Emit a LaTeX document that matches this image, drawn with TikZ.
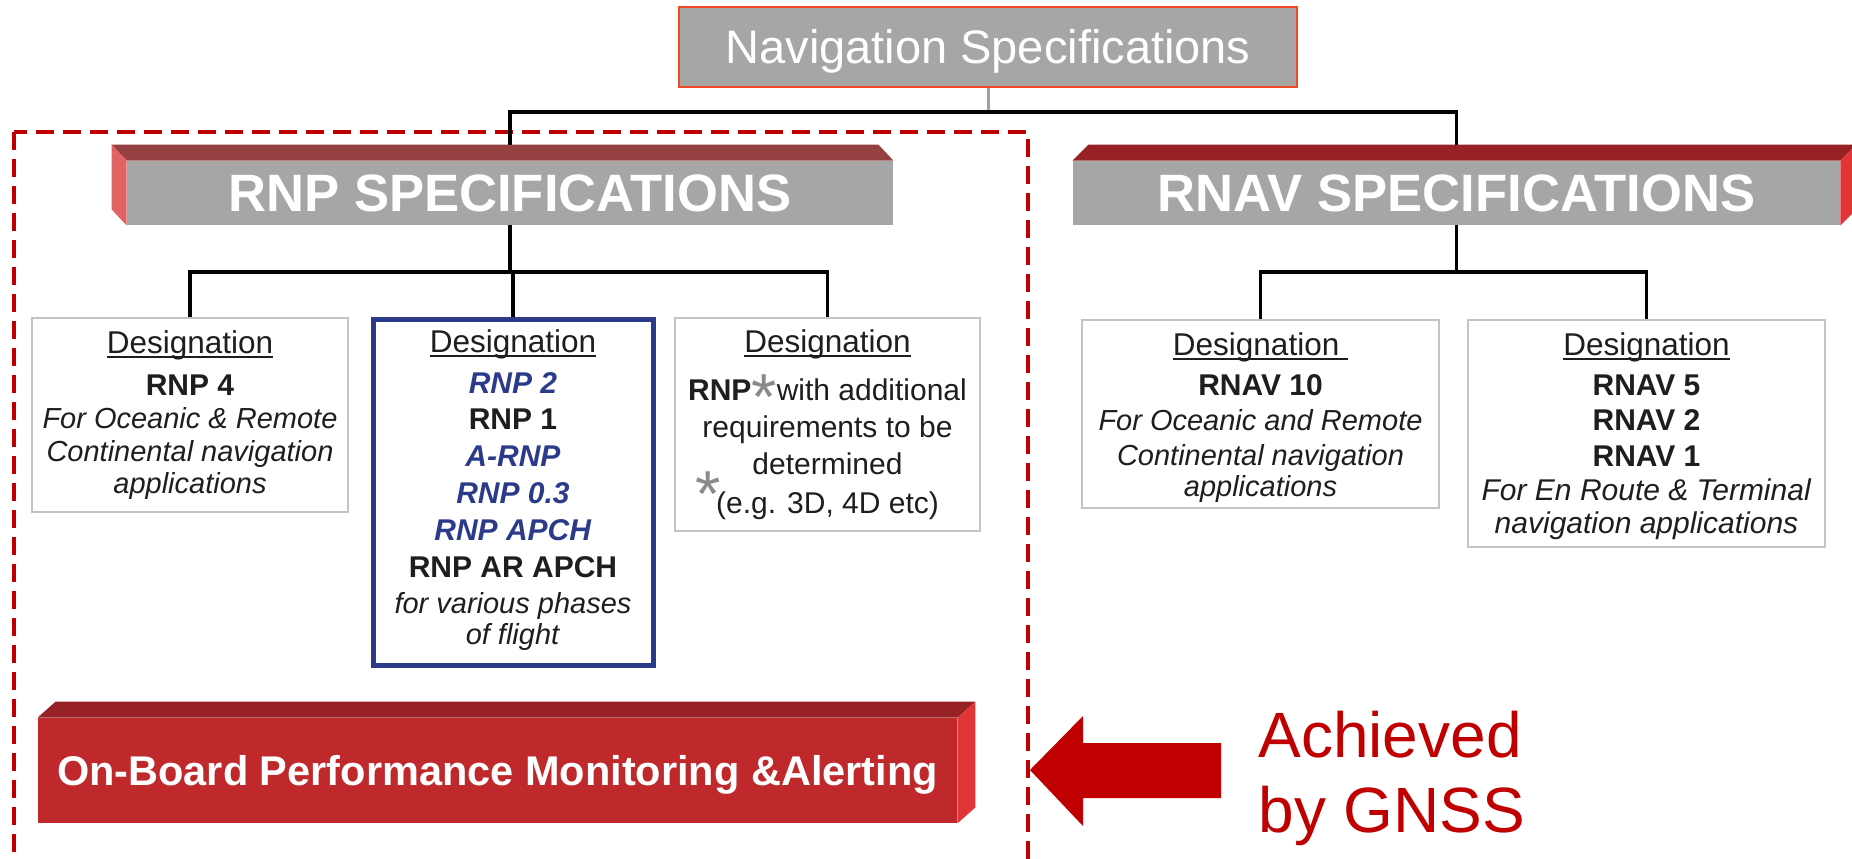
\documentclass[tikz,border=0pt]{standalone}
\usepackage{fontspec}
\setmainfont{Liberation Sans}
\usetikzlibrary{calc}

\definecolor{specgray}{HTML}{A6A6A6}
\definecolor{navedge}{HTML}{F04A22}
\definecolor{rnptop}{HTML}{964141}
\definecolor{rnpside}{HTML}{E06262}
\definecolor{bartop}{HTML}{962226}
\definecolor{barside}{HTML}{E23538}
\definecolor{barfront}{HTML}{C0292C}
\definecolor{framered}{HTML}{C00000}
\definecolor{boxedge}{HTML}{C4C4C4}
\definecolor{navyblue}{HTML}{2C3A8A}
\definecolor{inkblack}{HTML}{1E1E1E}
\definecolor{stargray}{HTML}{8A8A8A}
\definecolor{linkgray}{HTML}{A0A0A0}

% underlined heading of each designation box
\newcommand\desig[1]{{\fontsize{15.75}{17}\selectfont\setbox0\hbox{#1}\rlap{\rule[-2.3pt]{\wd0}{1.1pt}}\box0}}
% large grey footnote asterisk
\newcommand\starmark{\raisebox{-9.5pt}[0pt][0pt]{\textcolor{stargray}{\fontsize{32.5}{32.5}\selectfont *}}}
\newcommand\bluebold[1]{\textcolor{navyblue}{\textbf{\textit{#1}}}}
% slightly smaller italic remark lines
\newcommand\remark[1]{{\fontsize{14.5}{16}\selectfont\textit{#1}}}

\begin{document}
\begin{tikzpicture}[x=0.5pt,y=-0.5pt,
  conn/.style={draw=black, line width=1.75pt},
  specbar/.style={fill=specgray, inner sep=0pt, text=white,
    font=\bfseries\fontsize{26.3}{30}\selectfont, text height=18.8pt, text depth=0pt,
    minimum height=32pt},
  desbox/.style={draw=boxedge, line width=0.75pt, fill=white, inner sep=0pt},
  destext/.style={anchor=north, align=center, inner sep=0pt, text=inkblack,
    font=\fontsize{15}{#1}\selectfont}]

\clip (0,0) rectangle (1852,858);
\fill[white] (0,0) rectangle (1852,858);

% frame round the RNP branch
\draw[framered, line width=1.75pt, dash pattern=on 9pt off 4.5pt] (14,132) rectangle (1028,920);

% root
\node[draw=navedge, line width=1pt, fill=specgray, minimum width=309pt, minimum height=40pt,
  inner sep=0pt, text=white, font=\fontsize{23.5}{28}\selectfont, text height=16.8pt, text depth=0pt]
  (nav) at (988,47) {Navigation Specifications};

% specification bars
\node[specbar, minimum width=383pt] (rnp) at (510,193) {RNP SPECIFICATIONS};
\node[specbar, minimum width=383.5pt] (rnav) at (1456.5,193) {RNAV SPECIFICATIONS};

\fill[rnptop] (rnp.north west) -- ++(-15,-16) -- ([shift={(-15,-16)}]rnp.north east) -- (rnp.north east) -- cycle;
\fill[rnpside] (rnp.north west) -- ++(-15,-16) -- ([shift={(-15,-16)}]rnp.south west) -- (rnp.south west) -- cycle;
\fill[bartop] (rnav.north west) -- ++(16,-16) -- ([shift={(16,-16)}]rnav.north east) -- (rnav.north east) -- cycle;
\fill[barside] (rnav.north east) -- ++(16,-16) -- ([shift={(16,-16)}]rnav.south east) -- (rnav.south east) -- cycle;

% root connectors
\coordinate (hub) at (nav.south |- 0,112);
\draw[linkgray, line width=1.5pt] (nav.south) -- (hub);
\draw[conn] ([yshift=8pt]rnp.north) |- (hub) -| ([yshift=8pt]rnav.north);

% designation boxes
\node[desbox, minimum width=158pt, minimum height=97pt] (b1) at (190,415) {};
\node[desbox, draw=navyblue, line width=2.5pt, minimum width=140pt, minimum height=173pt] (b2) at (513,492) {};
\node[desbox, minimum width=152.5pt, minimum height=106.5pt] (b3) at (827.5,424.5) {};
\node[desbox, minimum width=178.5pt, minimum height=94pt] (b4) at (1260.5,414) {};
\node[desbox, minimum width=178.5pt, minimum height=113.5pt] (b5) at (1646.5,433.5) {};

% branch connectors
\coordinate (rnpbus) at (rnp.south |- 0,272);
\draw[conn] (rnp.south) -- (rnpbus);
\draw[conn] (b1.north) |- (rnpbus) -| (b3.north);
\draw[conn] (b2.north) -- (b2.north |- rnpbus);
\coordinate (rnavbus) at (rnav.south |- 0,272);
\draw[conn] (rnav.south) -- (rnavbus);
\draw[conn] (b4.north) |- (rnavbus) -| (b5.north);

% box contents
\node[destext=16.5] (t1) at (190,330.3) {\desig{Designation}\\[4.3pt]
  \textbf{RNP 4}\\
  \remark{For Oceanic \& Remote}\\
  \remark{Continental navigation}\\[-0.5pt]
  \remark{applications}};

\node[destext=18.5] (t2) at (513,329.3) {\desig{Designation}\\[2pt]
  \bluebold{RNP 2}\\[-0.5pt]
  \textbf{RNP 1}\\
  \bluebold{A-RNP}\\
  \bluebold{RNP 0.3}\\
  \bluebold{RNP APCH}\\
  \textbf{RNP AR APCH}\\[-0.5pt]
  \remark{for various phases}\\[-3pt]
  \remark{of flight}};

\node[destext=18.5] (t3) at (827.5,329.3) {\desig{Designation}\\[5.5pt]
  \textbf{RNP}\starmark with additional\\
  requirements to be\\
  determined\\[1pt]
  (e.g. 3D, 4D etc)};
\node[anchor=base west, inner sep=0pt, text=stargray, font=\fontsize{32.5}{32.5}\selectfont]
  (star2) at (695.5,516) {*};

\node[destext=17.5] (t4) at (1260.5,332.3) {\desig{Designation\ }\\[2.5pt]
  \textbf{RNAV 10}\\
  \remark{For Oceanic and Remote}\\
  \remark{Continental navigation}\\[-2pt]
  \remark{applications}};

\node[destext=17.5] (t5) at (1646.5,332.3) {\desig{Designation}\\[2.5pt]
  \textbf{RNAV 5}\\
  \textbf{RNAV 2}\\[0.5pt]
  \textbf{RNAV 1}\\[-0.5pt]
  \textit{For En Route \& Terminal}\\[-1pt]
  \textit{navigation applications}};

% on-board monitoring bar
\node[fill=barfront, inner sep=0pt, text=white, font=\bfseries\fontsize{20.75}{24}\selectfont,
  text height=14.9pt, text depth=0pt, minimum width=459.5pt, minimum height=52.5pt]
  (obpm) at (497.5,770.5) {On-Board Performance Monitoring \&Alerting};
\fill[bartop] (obpm.north west) -- ++(18,-16) -- ([shift={(18,-16)}]obpm.north east) -- (obpm.north east) -- cycle;
\fill[barside] (obpm.north east) -- ++(18,-16) -- ([shift={(18,-16)}]obpm.south east) -- (obpm.south east) -- cycle;

% block arrow and its caption
\node[anchor=north west, align=left, inner sep=0pt, text=framered, font=\fontsize{32}{37.5}\selectfont]
  (gnss) at (1258,711) {Achieved\\by GNSS};
\fill[framered] (1030,770) -- (1083,716) -- (1083,743) -- (1221,743) -- (1221,798)
  -- (1083,798) -- (1083,826) -- cycle;

\end{tikzpicture}
\end{document}
